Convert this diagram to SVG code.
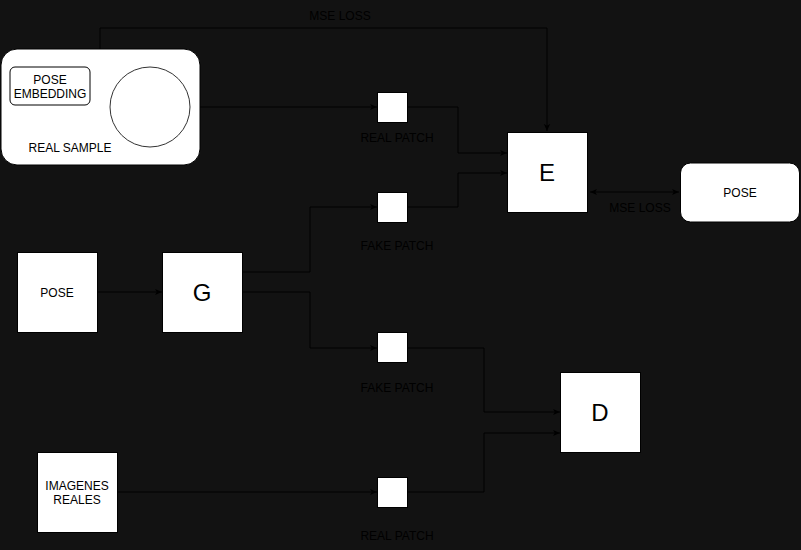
<svg xmlns="http://www.w3.org/2000/svg" width="801" height="550" viewBox="0 0 801 550">
<defs>
<style>
.box{fill:#fff;stroke:#000;stroke-width:1}
.t{font-family:"Liberation Sans",Arial,sans-serif;font-size:12px;fill:#000;text-anchor:middle}
.big{font-family:"Liberation Sans",Arial,sans-serif;font-size:24px;fill:#000;text-anchor:middle}
.lbl{font-family:"Liberation Sans",Arial,sans-serif;font-size:12px;fill:#000;text-anchor:middle}
.c{fill:none;stroke:#000;stroke-width:1}
</style>
<marker id="ah" viewBox="0 0 10 10" refX="9" refY="5" markerWidth="8" markerHeight="8" orient="auto-start-reverse" markerUnits="userSpaceOnUse">
<path d="M0,1 L9,5 L0,9 L2.5,5 Z" fill="#000"/>
</marker>
</defs>
<rect x="0" y="0" width="801" height="550" fill="#121212"/>
<g id="connectors">
<path class="c" d="M100,49 V28 H547 V131" marker-end="url(#ah)"/>
<path class="c" d="M200,107 H377" marker-end="url(#ah)"/>
<path class="c" d="M407,107 H458 V153 H507" marker-end="url(#ah)"/>
<path class="c" d="M407,207 H458 V173 H507" marker-end="url(#ah)"/>
<path class="c" d="M590,192 H679" marker-start="url(#ah)" marker-end="url(#ah)"/>
<path class="c" d="M97,292 H162" marker-end="url(#ah)"/>
<path class="c" d="M242,272 H310 V207 H377" marker-end="url(#ah)"/>
<path class="c" d="M242,292 H310 V348 H377" marker-end="url(#ah)"/>
<path class="c" d="M117,492 H377" marker-end="url(#ah)"/>
<path class="c" d="M407,348 H484 V412 H560" marker-end="url(#ah)"/>
<path class="c" d="M407,492 H484 V433 H560" marker-end="url(#ah)"/>
<text class="lbl" x="340" y="20">MSE LOSS</text>
<text class="lbl" x="640" y="212">MSE LOSS</text>
</g>
<g id="real-sample">
<rect class="box" x="1" y="49" width="199" height="116" rx="16"/>
<rect class="box" x="10" y="67" width="80" height="38" rx="5"/>
<text class="t" x="50" y="84">POSE</text>
<text class="t" x="50" y="98">EMBEDDING</text>
<circle cx="150" cy="107" r="40" fill="#fff" stroke="#333" stroke-width="1"/>
<text class="t" x="70" y="152">REAL SAMPLE</text>
</g>
<g id="real-patch-1">
<rect class="box" x="377.5" y="92.5" width="30" height="30"/>
<text class="lbl" x="397" y="142">REAL PATCH</text>
</g>
<g id="fake-patch-1">
<rect class="box" x="377.5" y="192.5" width="30" height="30"/>
<text class="lbl" x="397" y="250">FAKE PATCH</text>
</g>
<g id="E">
<rect class="box" x="507.5" y="132.5" width="80" height="80"/>
<text class="big" x="547" y="181">E</text>
</g>
<g id="pose-out">
<rect class="box" x="680.5" y="163" width="119" height="59" rx="10"/>
<text class="t" x="740" y="197">POSE</text>
</g>
<g id="pose-in">
<rect class="box" x="17.5" y="252.5" width="80" height="80"/>
<text class="t" x="57" y="297">POSE</text>
</g>
<g id="G">
<rect class="box" x="162.5" y="252.5" width="80" height="80"/>
<text class="big" x="202" y="301">G</text>
</g>
<g id="fake-patch-2">
<rect class="box" x="377.5" y="332.5" width="30" height="30"/>
<text class="lbl" x="397" y="392">FAKE PATCH</text>
</g>
<g id="D">
<rect class="box" x="560.5" y="372.5" width="80" height="80"/>
<text class="big" x="600" y="421">D</text>
</g>
<g id="imagenes-reales">
<rect class="box" x="37.5" y="452.5" width="80" height="80"/>
<text class="t" x="77" y="490">IMAGENES</text>
<text class="t" x="77" y="504">REALES</text>
</g>
<g id="real-patch-2">
<rect class="box" x="377.5" y="477.5" width="30" height="30"/>
<text class="lbl" x="397" y="540">REAL PATCH</text>
</g>
</svg>
